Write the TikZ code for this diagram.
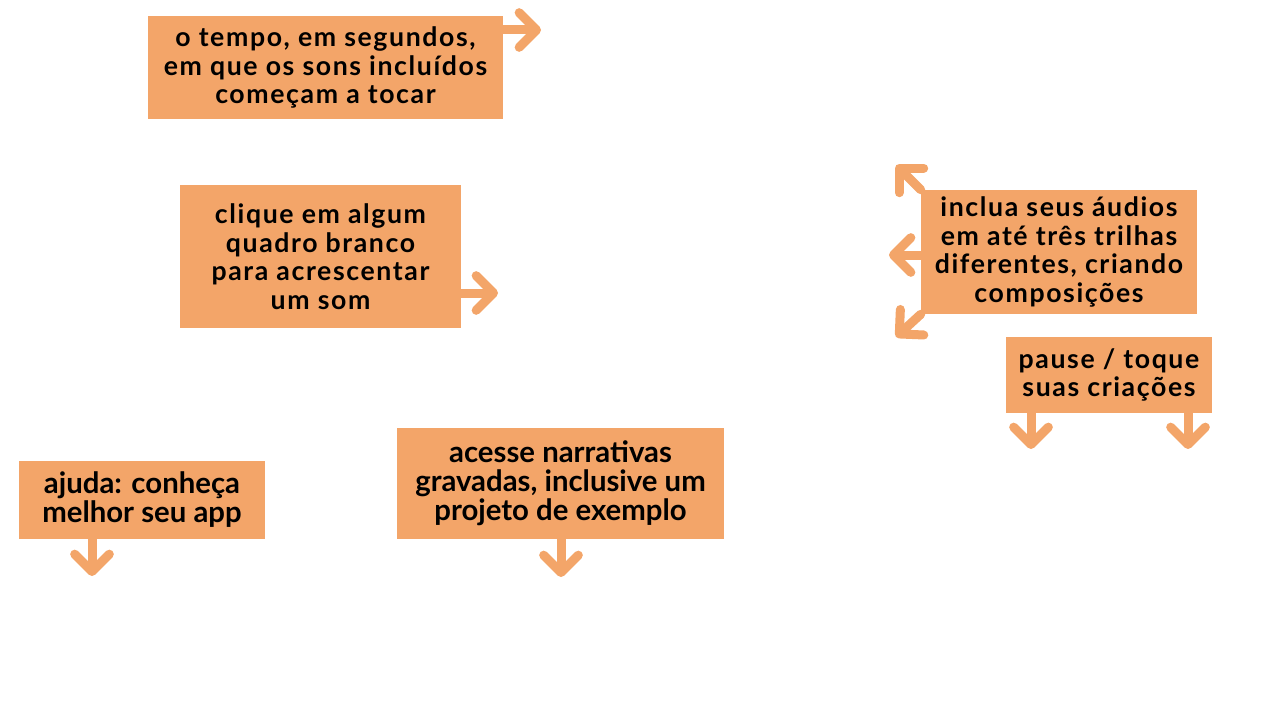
\documentclass[tikz,border=0pt]{standalone}
\usepackage{fontspec}
\setmainfont{Lato}
\newfontfamily\rotulo{Lato}[LetterSpace=6]
\newfontfamily\estreito{Lato}
\usepackage{tikz}
\usetikzlibrary{arrows.meta}
\definecolor{laranja}{RGB}{243,165,105}

\begin{document}
\begin{tikzpicture}[
    x=0.75pt,y=-0.75pt,
    caixa/.style={fill=laranja, inner sep=0pt, align=center, font=\rotulo\bfseries\fontsize{20}{21.4}\selectfont},
    caixaestreita/.style={caixa, font=\estreito\bfseries\fontsize{22}{21.8}\selectfont},
    seta/.style={laranja, line width=6.75pt, line cap=round, -{Straight Barb[length=13pt, width=26pt, round]}}
    ]
    \useasboundingbox (0,0) rectangle (1280,720);
    \node[caixa, minimum width=355*0.75pt, minimum height=103*0.75pt] (tempo) at (325.5,67.5) {o tempo, em segundos,\\em que os sons incluídos\\começam a tocar};
    \node[caixa, minimum width=281*0.75pt, minimum height=143*0.75pt] (clique) at (320.5,256.5) {clique em algum\\quadro branco\\para acrescentar\\um som};
    \node[caixa, minimum width=276*0.75pt, minimum height=124*0.75pt] (inclua) at (1059,252) {inclua seus áudios\\em até três trilhas\\diferentes, criando\\composições};
    \node[caixa, minimum width=206*0.75pt, minimum height=76*0.75pt] (pause) at (1109,375) {pause / toque\\suas criações};
    \node[caixaestreita, minimum width=246*0.75pt, minimum height=78*0.75pt] (ajuda) at (142,500) {ajuda: conheça\\melhor seu app};
    \node[caixaestreita, minimum width=327*0.75pt, minimum height=111*0.75pt] (acesse) at (560.5,483.5) {acesse narrativas\\gravadas, inclusive um\\projeto de exemplo};
    \coordinate (tempoFim) at (541,30);
    \coordinate (cliqueFim) at (498,293);
    \coordinate (incluaCima) at (896,165);
    \coordinate (incluaLado) at (889,255);
    \coordinate (incluaBaixo) at (896,337);
    \coordinate (pauseA) at (1031,449);
    \coordinate (pauseB) at (1188,449);
    \coordinate (ajudaFim) at (92,576);
    \coordinate (acesseFim) at (561,577);
    \draw[seta] (tempo.east |- tempoFim) -- (tempoFim);
    \draw[seta] (clique.east |- cliqueFim) -- (cliqueFim);
    \draw[seta] (inclua.north west) -- (incluaCima);
    \draw[seta] (inclua.west |- incluaLado) -- (incluaLado);
    \draw[seta] (inclua.south west) -- (incluaBaixo);
    \draw[seta] (pause.south -| pauseA) -- (pauseA);
    \draw[seta] (pause.south -| pauseB) -- (pauseB);
    \draw[seta] (ajuda.south -| ajudaFim) -- (ajudaFim);
    \draw[seta] (acesse.south -| acesseFim) -- (acesseFim);
\end{tikzpicture}
\end{document}
